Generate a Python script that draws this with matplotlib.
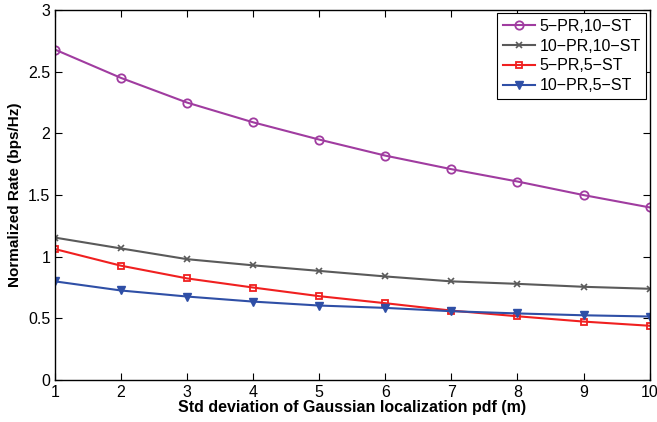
import matplotlib
matplotlib.use('Agg')
import matplotlib.pyplot as plt

plt.rcParams['font.family'] = ['Liberation Sans', 'DejaVu Sans']

x = [1, 2, 3, 4, 5, 6, 7, 8, 9, 10]
pr5_st10 = [2.68, 2.45, 2.25, 2.09, 1.95, 1.82, 1.71, 1.61, 1.50, 1.40]
pr10_st10 = [1.155, 1.067, 0.98, 0.93, 0.885, 0.84, 0.80, 0.78, 0.756, 0.74]
pr5_st5 = [1.062, 0.927, 0.824, 0.75, 0.68, 0.623, 0.563, 0.517, 0.474, 0.44]
pr10_st5 = [0.80, 0.726, 0.677, 0.636, 0.604, 0.585, 0.558, 0.54, 0.525, 0.515]

fig = plt.figure(figsize=(6.57, 4.22), dpi=100)
ax = fig.add_axes([0.0837, 0.0995, 0.905, 0.8765])

ax.plot(x, pr5_st10, color='#a03ca0', marker='o', markersize=6, markerfacecolor='none',
        markeredgewidth=1.3, linewidth=1.5, label='5\u2212PR,10\u2212ST')
ax.plot(x, pr10_st10, color='#5a5a5a', marker='x', markersize=4, markeredgewidth=1.2,
        linewidth=1.5, label='10\u2212PR,10\u2212ST')
ax.plot(x, pr5_st5, color='#f02020', marker='s', markersize=5, markerfacecolor='none',
        markeredgewidth=1.3, linewidth=1.5, label='5\u2212PR,5\u2212ST')
ax.plot(x, pr10_st5, color='#2f4fa6', marker='v', markersize=6, linewidth=1.5,
        label='10\u2212PR,5\u2212ST')

ax.set_xlim(1, 10)
ax.set_ylim(0, 3)
ax.set_xticks(x)
ax.set_yticks([0, 0.5, 1, 1.5, 2, 2.5, 3])
ax.set_yticklabels(['0', '0.5', '1', '1.5', '2', '2.5', '3'])
ax.tick_params(direction='in', top=True, right=True, labelsize=11.5, length=5)
for s in ax.spines.values():
    s.set_linewidth(1.0)

ax.set_xlabel('Std deviation of Gaussian localization pdf (m)', fontsize=11.5, fontweight='bold', labelpad=0)
ax.set_ylabel('Normalized Rate (bps/Hz)', fontsize=11, fontweight='bold', labelpad=4)

leg = ax.legend(loc='upper right', numpoints=1, fontsize=11.5, fancybox=False, framealpha=1,
                edgecolor='black', borderaxespad=0.2, handlelength=2.0, labelspacing=0.3,
                borderpad=0.35, handletextpad=0.3)
leg.get_frame().set_linewidth(0.8)

plt.savefig('out.png', dpi=100)
